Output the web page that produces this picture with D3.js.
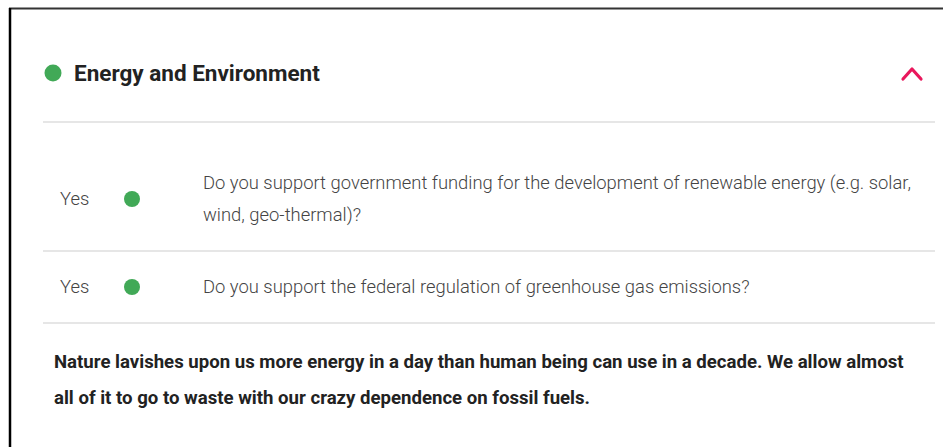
<!DOCTYPE html>
<meta charset="utf-8">
<html>
<head>
<style>
  html, body { margin: 0; padding: 0; background: #fff; }
  svg { display: block; font-family: Roboto, "Noto Sans", sans-serif; }
  .rule { stroke: #dedede; stroke-width: 1.5; }
  .title { font-weight: 700; font-size: 22.5px; fill: #222; }
  .answer, .question { font-weight: 300; font-size: 18.4px; fill: #444; }
  .quote { font-weight: 700; font-size: 18.6px; fill: #222; }
</style>
</head>
<body>
<svg width="943" height="447"></svg>
<script src="https://cdn.jsdelivr.net/npm/d3@7"></script>
<script>
// ---- data ----
var title = "Energy and Environment";
var answers = ["Yes", "Yes"];
var questions = [
  ["Do you support government funding for the development of renewable energy (e.g. solar,",
   "wind, geo-thermal)?"],
  ["Do you support the federal regulation of greenhouse gas emissions?"]
];
var quoteLines = [
  "Nature lavishes upon us more energy in a day than human being can use in a decade. We allow almost",
  "all of it to go to waste with our crazy dependence on fossil fuels."
];

var svg = d3.select("svg"),
    width = +svg.attr("width"),
    height = +svg.attr("height");

var green = "#41a957", pink = "#e9175c";
var left = 43, right = 935, lineH = 32;

// frame
svg.append("line").attr("x1", 9).attr("x2", width).attr("y1", 8.5).attr("y2", 8.5)
  .attr("stroke", "#333").attr("stroke-width", 2);
svg.append("line").attr("x1", 10).attr("x2", 10).attr("y1", 8).attr("y2", height)
  .attr("stroke", "#000").attr("stroke-width", 2.5);

// header
var head = svg.append("g");
head.append("circle").attr("cx", 53).attr("cy", 73).attr("r", 8.5).attr("fill", green);
head.append("text").attr("class", "title").attr("x", 74).attr("y", 73)
  .attr("dy", "0.35em").text(title);
head.append("path")
  .attr("d", d3.line()([[903, 79], [912, 69], [921, 79]]))
  .attr("fill", "none").attr("stroke", pink).attr("stroke-width", 3.2)
  .attr("stroke-linecap", "round").attr("stroke-linejoin", "round");
svg.append("line").attr("class", "rule").attr("x1", left).attr("x2", right)
  .attr("y1", 122).attr("y2", 122);

// rows: height depends on the number of text lines
var rows = [], rowTop = 123;
questions.forEach(function (q, i) {
  var pad = i === 0 ? 64 : 40;
  var h = q.length * lineH + pad;
  rows.push({
    answer: answers[i], lines: q, top: rowTop, bottom: rowTop + h,
    mid: rowTop + (i === 0 ? 76 : h / 2)
  });
  rowTop += h;
});

var row = svg.selectAll("g.row").data(rows).enter().append("g").attr("class", "row");
row.append("text").attr("class", "answer").attr("x", 60)
  .attr("y", function (d) { return d.mid; }).attr("dy", "0.35em")
  .text(function (d) { return d.answer; });
row.append("circle").attr("cx", 132).attr("cy", function (d) { return d.mid; })
  .attr("r", 8).attr("fill", green);
row.each(function (d) {
  d3.select(this).selectAll("text.question").data(d.lines).enter().append("text")
    .attr("class", "question").attr("x", 203)
    .attr("y", function (t, j) { return d.mid + (j - (d.lines.length - 1) / 2) * lineH; })
    .attr("dy", "0.35em").text(function (t) { return t; });
});
row.append("line").attr("class", "rule").attr("x1", left).attr("x2", right)
  .attr("y1", function (d) { return d.bottom; }).attr("y2", function (d) { return d.bottom; });

// quote
svg.selectAll("text.quote").data(quoteLines).enter().append("text")
  .attr("class", "quote").attr("x", 54)
  .attr("y", function (d, i) { return 361 + i * 36; }).attr("dy", "0.35em")
  .text(function (d) { return d; });
</script>
</body>
</html>
